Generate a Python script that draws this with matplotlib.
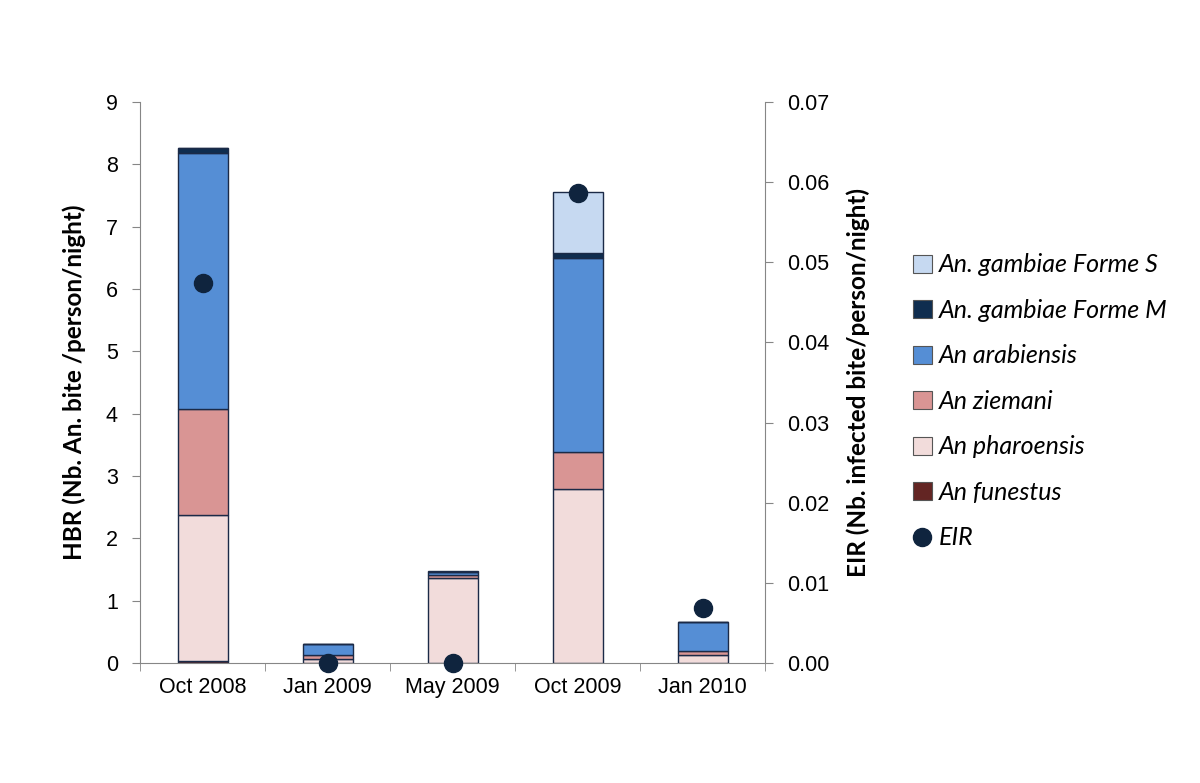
import numpy as np
import matplotlib
matplotlib.use('Agg')
from matplotlib import pyplot as plt
from matplotlib.lines import Line2D
from matplotlib.patches import Patch

# data
months = ['Oct 2008', 'Jan 2009', 'May 2009', 'Oct 2009', 'Jan 2010']
funestus = [0.03, 0.0, 0.0, 0.0, 0.0]
pharoensis = [2.34, 0.06, 1.36, 2.79, 0.12]
ziemani = [1.70, 0.06, 0.05, 0.60, 0.08]
arabiensis = [4.11, 0.18, 0.05, 3.11, 0.45]
forme_m = [0.08, 0.0, 0.0, 0.08, 0.0]
forme_s = [0.0, 0.0, 0.01, 0.98, 0.0]
eir = [0.0474, 0.0, 0.0, 0.0586, 0.0069]

species = [
    ('An funestus', funestus, '#632523'),
    ('An pharoensis', pharoensis, '#F2DCDB'),
    ('An ziemani', ziemani, '#D99594'),
    ('An arabiensis', arabiensis, '#558ED5'),
    ('An. gambiae Forme M', forme_m, '#0F2D4F'),
    ('An. gambiae Forme S', forme_s, '#C6D9F1'),
]
edge = '#1B2A47'
grey = '#868686'
tick_font = 'Liberation Sans'
label_font = 'Lato'

fig = plt.figure(figsize=(12, 7.83), dpi=100)
ax = fig.add_axes([0.1167, 0.1533, 0.5208, 0.7164])
x = np.arange(len(months))

bottom = np.zeros(len(months))
for name, vals, col in species:
    vals = np.array(vals)
    ax.bar(x, vals, 0.4, bottom=bottom, color=col, edgecolor=edge, linewidth=1.0)
    bottom += vals

ax.set_xlim(-0.5, len(months) - 0.5)
ax.set_ylim(0, 9)
ax.set_yticks(range(0, 10))
ax.set_xticks(x)
ax.set_xticklabels(months)
ax.set_xticks(np.arange(-0.5, len(months)), minor=True)
ax.tick_params(axis='x', which='major', length=0, pad=10)
ax.tick_params(axis='x', which='minor', length=6, color=grey, direction='out')
ax.tick_params(axis='y', length=6, color=grey, direction='out', pad=10)
for lab in ax.get_xticklabels() + ax.get_yticklabels():
    lab.set_fontfamily(tick_font)
    lab.set_fontsize(15.5)
for s in ['top', 'right']:
    ax.spines[s].set_visible(False)
for s in ['left', 'bottom']:
    ax.spines[s].set_color(grey)
ax.set_ylabel('HBR (Nb. An. bite /person/night)', fontfamily=label_font,
              fontweight='bold', fontsize=17.5, labelpad=14)

ax2 = ax.twinx()
ax2.set_ylim(0, 0.07)
ax2.set_yticks(np.arange(0, 0.071, 0.01))
ax2.set_yticklabels(['%.2f' % v for v in np.arange(0, 0.071, 0.01)])
ax2.plot(x, eir, 'o', color='#0F243E', markersize=13, clip_on=False, zorder=5)
ax2.tick_params(axis='y', length=6, color=grey, direction='out', pad=10)
for lab in ax2.get_yticklabels():
    lab.set_fontfamily(tick_font)
    lab.set_fontsize(15.5)
for s in ['top', 'left', 'bottom']:
    ax2.spines[s].set_visible(False)
ax2.spines['right'].set_color(grey)
ax2.set_ylabel('EIR (Nb. infected bite/person/night)', fontfamily=label_font,
               fontweight='bold', fontsize=17.5, labelpad=12)

handles = []
for name, vals, col in reversed(species):
    handles.append(Patch(facecolor=col, edgecolor='#555555', linewidth=0.8, label=name))
handles.append(Line2D([], [], marker='o', linestyle='none', color='#0F243E',
                      markersize=13, label='EIR'))
fig.legend(handles=handles, loc='upper left', bbox_to_anchor=(0.742, 0.705),
           frameon=False, handlelength=0.75, handleheight=0.75, handletextpad=0.3,
           labelspacing=0.9, prop={'family': label_font, 'style': 'italic', 'size': 18})

fig.savefig('out.png', dpi=100)
